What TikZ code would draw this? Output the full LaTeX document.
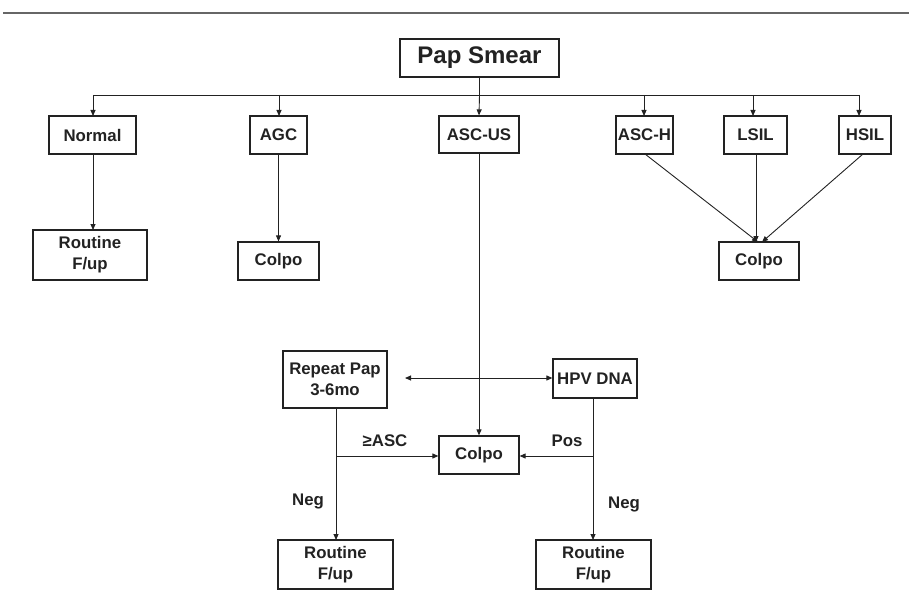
\documentclass[tikz,border=0pt]{standalone}
\usepackage{fontspec}
\setmainfont{Liberation Sans}
\usetikzlibrary{arrows.meta}
\definecolor{ink}{HTML}{222222}
\definecolor{rule}{HTML}{666666}
\begin{document}
\begin{tikzpicture}[x=1pt,y=-1pt,
  box/.style={draw=ink,line width=1.2pt,text=ink,inner sep=0pt,align=center,
    font=\fontsize{16.8}{20.7}\selectfont\bfseries},
  conn/.style={draw=ink,line width=0.9pt},
  arr/.style={conn,-{Triangle[length=6pt,width=5pt]}},
  lbl/.style={text=ink,inner sep=0pt,font=\fontsize{16.8}{20}\selectfont\bfseries}]
\useasboundingbox (0,0) rectangle (909,607);
\draw[rule,line width=2.3pt] (3,13) -- (909,13);
% nodes
\node[box,minimum width=159pt,minimum height=38pt,font=\fontsize{24}{26}\selectfont\bfseries] (pap) at (479.5,58) {Pap Smear};
\node[box,minimum width=87pt,minimum height=38pt] (normal) at (92.5,135) {Normal};
\node[box,minimum width=57pt,minimum height=38pt] (agc) at (278.5,135) {AGC};
\node[box,minimum width=80pt,minimum height=37pt] (ascus) at (479,134.5) {ASC-US};
\node[box,minimum width=57pt,minimum height=38pt] (asch) at (644.5,135) {ASC-H};
\node[box,minimum width=63pt,minimum height=38pt] (lsil) at (755.5,135) {LSIL};
\node[box,minimum width=52pt,minimum height=38pt] (hsil) at (865,135) {HSIL};
\node[box,minimum width=114pt,minimum height=50pt] (rout1) at (90,255) {Routine\\F/up};
\node[box,minimum width=81pt,minimum height=38pt] (colpo1) at (278.5,261) {Colpo};
\node[box,minimum width=80pt,minimum height=38pt] (colpo2) at (759,261) {Colpo};
\node[box,minimum width=104pt,minimum height=57pt,font=\fontsize{16.8}{21.5}\selectfont\bfseries] (repeat) at (335,379.5) {Repeat Pap\\3-6mo};
\node[box,minimum width=84pt,minimum height=39pt] (hpv) at (595,378.5) {HPV DNA};
\node[box,minimum width=80pt,minimum height=38pt] (colpo3) at (479,455) {Colpo};
\node[box,minimum width=115pt,minimum height=49pt] (rout2) at (335.5,564.5) {Routine\\F/up};
\node[box,minimum width=115pt,minimum height=49pt] (rout3) at (593.5,564.5) {Routine\\F/up};
% bus
\coordinate (busL) at (93,95);
\coordinate (busR) at (859,95);
\coordinate (papbus) at (pap.south |- busL);
\draw[conn] (pap.south) -- (papbus);
\draw[conn] (busL) -- (busR);
\draw[arr] (busL) -- (93,116);
\draw[arr] (279,95) -- (279,116);
\draw[arr] (papbus) -- (ascus.north);
\draw[arr] (644,95) -- (644,116);
\draw[arr] (753,95) -- (753,116);
\draw[arr] (busR) -- (859,116);
% second level
\draw[arr] (93,154) -- (93,230);
\draw[arr] (agc.south) -- (colpo1.north);
\draw[arr] (645,154) -- (758,242);
\draw[arr] (756,154) -- (756,242);
\draw[arr] (863,154) -- (762,242);
% ASC-US branch
\draw[arr] (ascus.south) -- (colpo3.north);
\coordinate (dl) at (405,378);
\draw[conn,{Triangle[length=6pt,width=5pt]}-{Triangle[length=6pt,width=5pt]}] (dl) -- (hpv.west |- dl);
\coordinate (rj) at (336,456);
\coordinate (hj) at (593,456);
\draw[conn] (336,408) -- (rj);
\draw[arr] (rj) -- (colpo3.west |- rj);
\draw[arr] (rj) -- (336,540);
\draw[conn] (593,398) -- (hj);
\draw[arr] (hj) -- (colpo3.east |- hj);
\draw[arr] (hj) -- (593,540);
% labels
\node[lbl] (lge) at (385,441) {≥ASC};
\node[lbl] (lpos) at (567,441) {Pos};
\node[lbl] (lneg1) at (308,501) {Neg};
\node[lbl] (lneg2) at (624,504) {Neg};
\end{tikzpicture}
\end{document}
